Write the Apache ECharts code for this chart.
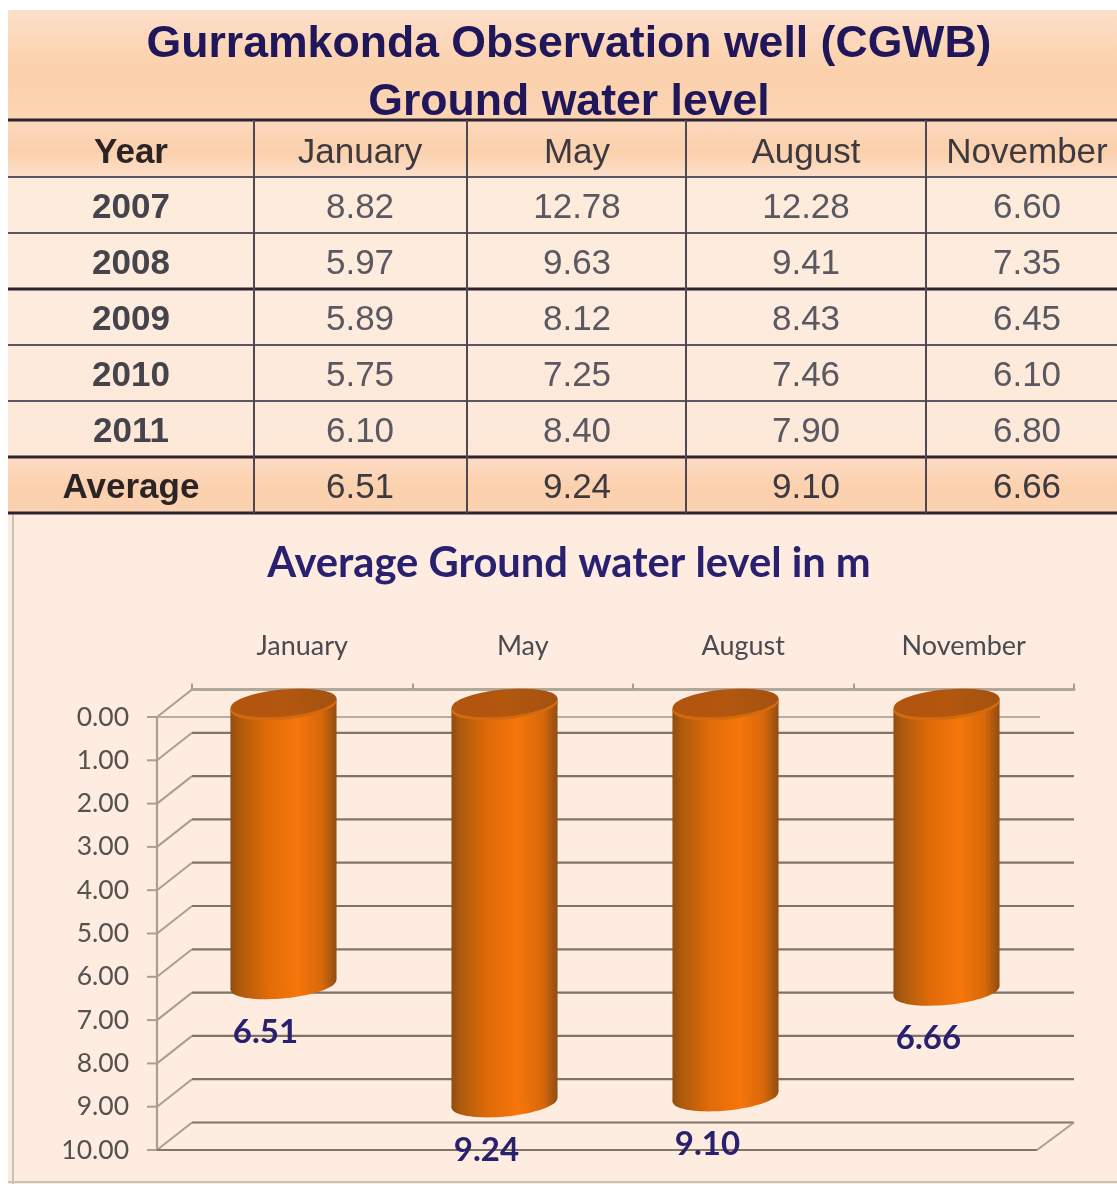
<!DOCTYPE html>
<html><head><meta charset="utf-8">
<style>html,body{margin:0;padding:0;background:#fff}#c{width:1117px;height:1184px;filter:blur(0.7px)}</style>
<script src="https://cdn.jsdelivr.net/npm/echarts@6/dist/echarts.min.js"></script>
</head><body><div id="c"></div>
<script>
const titleLines = ['Gurramkonda Observation well (CGWB)', 'Ground water level'];
const chartTitle = 'Average Ground water level in m';
const tableHeader = ['Year', 'January', 'May', 'August', 'November'];
const rowLabels = ['2007', '2008', '2009', '2010', '2011', 'Average'];
const january = ['8.82', '5.97', '5.89', '5.75', '6.10', '6.51'];
const may = ['12.78', '9.63', '8.12', '7.25', '8.40', '9.24'];
const august = ['12.28', '9.41', '8.43', '7.46', '7.90', '9.10'];
const november = ['6.60', '7.35', '6.45', '6.10', '6.80', '6.66'];
const months = ['January', 'May', 'August', 'November'];
const averages = [6.51, 9.24, 9.10, 6.66];
const depthTicks = [0, 1, 2, 3, 4, 5, 6, 7, 8, 9, 10];

const columns = [january, may, august, november];
const colEdges = [8, 254, 467, 686, 926, 1117];
const colCenters = [131, 360, 577, 806, 1027];
const rowEdges = [120, 177, 233, 289, 345, 401, 457, 513];
const thick = [120, 289, 457, 513];
const NAVY = '#20165a';

const g = [];
const vgrad = (a, b, c) => ({type:'linear',x:0,y:0,x2:0,y2:1,colorStops:[{offset:0,color:a},{offset:.55,color:b},{offset:1,color:c}]});
g.push({type:'rect',z:0,shape:{x:8,y:10,width:1109,height:110},style:{fill:vgrad('#fddfca','#fbd0aa','#fcd5b6')}});
g.push({type:'rect',z:0,shape:{x:8,y:513,width:1109,height:671},style:{fill:'#fdecdf'}});
g.push({type:'rect',z:0,shape:{x:8,y:177,width:1109,height:280},style:{fill:vgrad('#fdebdc','#fdebdd','#fde8d8')}});
g.push({type:'rect',z:0,shape:{x:8,y:120,width:1109,height:57},style:{fill:vgrad('#fcd9bf','#fbd0ac','#fde0ca')}});
g.push({type:'rect',z:0,shape:{x:8,y:457,width:1109,height:56},style:{fill:vgrad('#fddcc4','#fbd0ad','#fbd2b2')}});
g.push({type:'line',z:1,shape:{x1:13,y1:513,x2:13,y2:1184},style:{stroke:'#c9c3bb',lineWidth:2}});
g.push({type:'line',z:1,shape:{x1:8,y1:1182,x2:1117,y2:1182},style:{stroke:'#c9c3bb',lineWidth:2}});
rowEdges.forEach(y => g.push({type:'line',z:1,shape:{x1:8,y1:y,x2:1117,y2:y},
  style:{stroke: thick.includes(y) ? '#2e2430' : '#5d5660', lineWidth: thick.includes(y) ? 3 : 2}}));
colEdges.slice(1,5).forEach(x => g.push({type:'line',z:1,shape:{x1:x,y1:120,x2:x,y2:513},style:{stroke:'#4f4852',lineWidth:2}}));
const cell = (t, x, y, bold, fill) => g.push({type:'text',z:2,x:x,y:y,style:{text:t,align:'center',verticalAlign:'middle',
  font:(bold?'bold ':'')+'35px "Liberation Sans"',fill:fill}});
tableHeader.forEach((t,i) => cell(t, colCenters[i], 153, i===0, i===0 ? '#2a2426' : '#3c3a40'));
rowLabels.forEach((t,r) => {
  const y = 208 + r*56;
  cell(t, colCenters[0], y, true, r===5 ? '#2a2426' : '#45434c');
  columns.forEach((c,i) => cell(c[r], colCenters[i+1], y, false, r===5 ? '#3c3a40' : '#5a5860'));
});

const chart = echarts.init(document.getElementById('c'), null, {renderer:'canvas'});
const LINE = '#7f7466';
const DX = 35, DY = 27.5;

function renderWalls(params, api) {
  const v = api.value(1), cs = params.coordSys;
  const y = api.coord([0, v])[1];
  const x0 = cs.x, x1 = cs.x + cs.width, fx = x0 - DX, fy = y + DY;
  const ln = (a,b,c,d,col,w) => ({type:'line',shape:{x1:a,y1:b,x2:c,y2:d},style:{stroke:col||LINE,lineWidth:w||2.2}});
  const kids = [ln(fx,fy,x0,y,'#a89e92',2), ln(fx-10,fy,fx,fy,'#a89e92',2)];
  if (v > 0) kids.push(ln(x0,y,x1,y));
  if (v === 0) kids.push(ln(fx,fy,x1-34,fy,'#b7aea3'));
  if (v === 10) { kids.push(ln(fx,fy,x1-37,fy)); kids.push(ln(x1-37,fy,x1,y,'#a89e92',2)); }
  if (v === 0) kids.push(ln(fx,fy,fx,fy+cs.height+1,'#a89e92'));
  return {type:'group',children:kids};
}

function renderBars(params, api) {
  const i = api.value(0), v = api.value(1);
  const top = api.coord([i, 0]), bot = api.coord([i, v]);
  const band = api.size([1, 0])[0];
  const hw = band * 0.24, ry = 13.5, tilt = 0.095, up = 14, sl = hw * Math.tan(tilt);
  const cx = top[0], yt = top[1] - up, yb = bot[1] - up;
  const side = {type:'linear',x:0,y:0,x2:1,y2:0,colorStops:[
    {offset:0,color:'#8f4c10'},{offset:.08,color:'#ad5a0d'},{offset:.35,color:'#e06b08'},
    {offset:.62,color:'#f6760a'},{offset:.86,color:'#d8680a'},{offset:1,color:'#8f4d12'}]};
  const lid = {type:'linear',x:0,y:0,x2:1,y2:0,colorStops:[
    {offset:0,color:'#b0540f'},{offset:.5,color:'#b3570f'},{offset:1,color:'#a3520f'}]};
  return {type:'group',children:[
    {type:'ellipse',x:cx,y:yb,rotation:tilt,shape:{cx:0,cy:0,rx:hw,ry:ry},style:{fill:side}},
    {type:'polygon',shape:{points:[[cx-hw,yt+sl],[cx+hw,yt-sl],[cx+hw,yb-sl],[cx-hw,yb+sl]]},style:{fill:side}},
    {type:'ellipse',x:cx,y:yt+3,rotation:tilt,shape:{cx:0,cy:0,rx:hw,ry:ry},style:{fill:'#d46a0d'}},
    {type:'ellipse',x:cx,y:yt,rotation:tilt,shape:{cx:0,cy:0,rx:hw,ry:ry},style:{fill:lid}},
    {type:'text',x:cx-18,y:bot[1]+33,style:{text:v.toFixed(2),align:'center',verticalAlign:'middle',
      font:'bold 33px Lato',fill:'#2a2070'}}
  ]};
}

chart.setOption({
  animation:false,
  backgroundColor:'#ffffff',
  graphic:g,
  title:[
    {text:titleLines[0],left:569,top:45,padding:0,textAlign:'center',textVerticalAlign:'middle',
     textStyle:{fontFamily:'Liberation Sans',fontSize:44.6,fontWeight:'bold',color:NAVY}},
    {text:titleLines[1],left:569,top:103,padding:0,textAlign:'center',textVerticalAlign:'middle',
     textStyle:{fontFamily:'Liberation Sans',fontSize:44.6,fontWeight:'bold',color:NAVY}},
    {text:chartTitle,left:569,top:564,padding:0,textAlign:'center',textVerticalAlign:'middle',
     textStyle:{fontFamily:'Lato',fontSize:41.7,fontWeight:'bold',color:'#2a2070'}}
  ],
  grid:[
    {left:192,width:882,top:689.5,height:433},
    {left:173,width:884,top:717,height:433}
  ],
  xAxis:[
    {type:'category',gridIndex:0,position:'top',data:months,
     axisLine:{lineStyle:{color:'#b0a79b',width:3}},axisTick:{show:true,length:6,alignWithLabel:false,lineStyle:{color:'#a89e92',width:2}},
     axisLabel:{margin:30,fontFamily:'Lato',fontSize:27,color:'#4a4a50'}},
    {type:'category',gridIndex:1,data:months,show:false}
  ],
  yAxis:[
    {type:'value',gridIndex:0,inverse:true,min:0,max:10,interval:1,show:false},
    {type:'value',gridIndex:1,inverse:true,min:0,max:10,interval:1,
     axisLine:{show:false},axisTick:{show:false},splitLine:{show:false},
     axisLabel:{margin:44,fontFamily:'Lato',fontSize:26.5,color:'#55524f',padding:[6,0,0,0],formatter:v=>v.toFixed(2)}}
  ],
  series:[
    {type:'custom',name:'walls',xAxisIndex:0,yAxisIndex:0,z:2,clip:false,silent:true,
     data:depthTicks.map(v=>[0,v]),encode:{x:0,y:1},renderItem:renderWalls},
    {type:'custom',name:'Average Ground water level in m',xAxisIndex:1,yAxisIndex:1,z:3,clip:false,
     data:averages.map((v,i)=>[i,v]),encode:{x:0,y:1},renderItem:renderBars}
  ]
});
</script></body></html>
